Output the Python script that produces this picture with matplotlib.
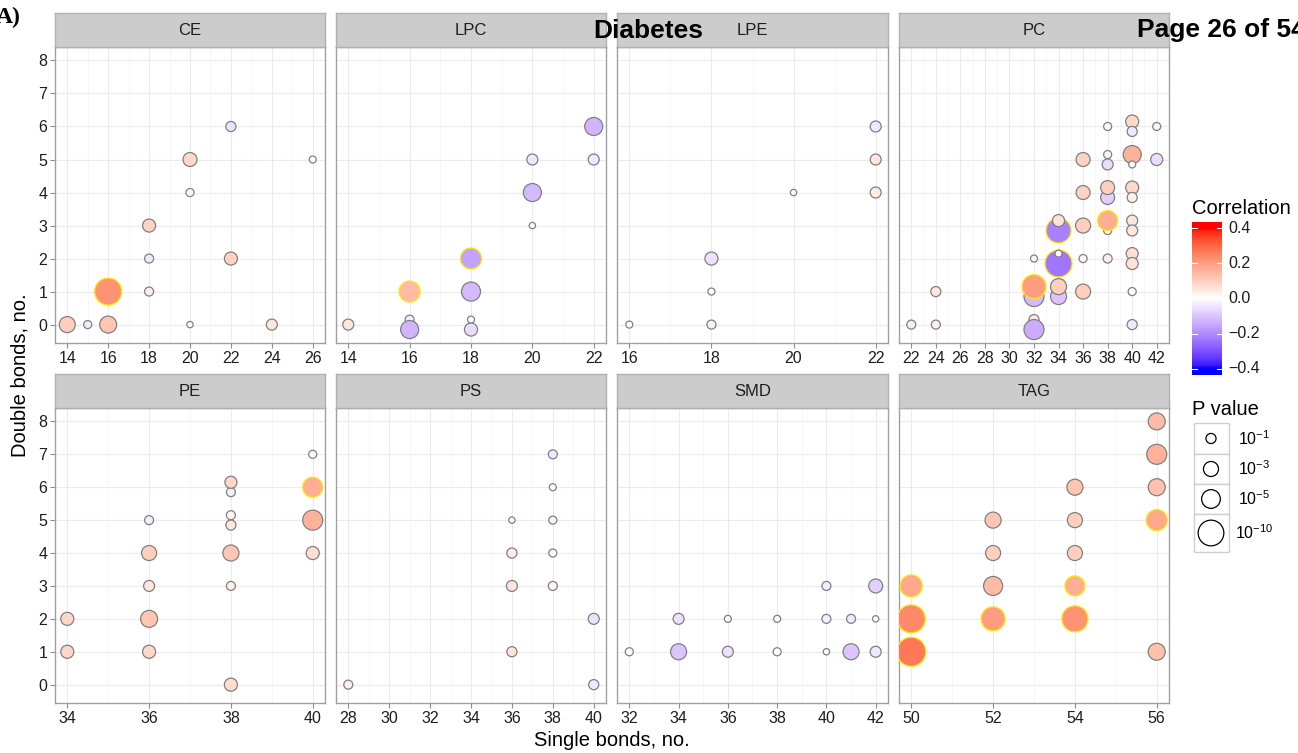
"""
Bubble chart of lipid species vs diabetes correlation, faceted by lipid class.
x = single bonds (carbons), y = double bonds, colour = correlation, size = -log10(P).
"""

import numpy as np
import matplotlib
matplotlib.use('Agg')
import matplotlib.pyplot as plt
from matplotlib.colors import ListedColormap, Normalize
from matplotlib.patches import Rectangle

plt.rcParams['font.family'] = ['Liberation Sans', 'DejaVu Sans']
plt.rcParams['mathtext.fontset'] = 'custom'
plt.rcParams['mathtext.rm'] = 'Liberation Sans'
plt.rcParams['mathtext.it'] = 'Liberation Sans:italic'
plt.rcParams['mathtext.bf'] = 'Liberation Sans:bold'

# ---------------- data ----------------
# per class: single bonds, double bonds, correlation, -log10(P), FDR significant
CE_X = [14, 15, 16, 16, 18, 18, 18, 20, 20, 20, 22, 22, 24, 26]
CE_Y = [0, 0, 0, 1, 1, 2, 3, 0, 4, 5, 2, 6, 0, 5]
CE_R = [0.10, -0.03, 0.12, 0.22, 0.03, -0.04, 0.09, 0.0, -0.01, 0.08, 0.09, -0.05, 0.05, 0.0]
CE_P = [3.5, 0.4, 4.0, 11.1, 0.66, 0.66, 2.1, 0.0, 0.4, 2.5, 2.1, 1.0, 1.3, 0.15]
CE_SIG = [0, 0, 0, 1, 0, 0, 0, 0, 0, 0, 0, 0, 0, 0]

LPC_X = [14, 16, 16, 16, 18, 18, 18, 18, 20, 20, 20, 22, 22]
LPC_Y = [0, 0.15, -0.15, 1, 0.15, -0.15, 1, 2, 3, 4, 5, 5, 6]
LPC_R = [0.05, -0.03, -0.13, 0.14, -0.01, -0.06, -0.12, -0.16, 0.0, -0.12, -0.04, -0.04, -0.13]
LPC_P = [1.3, 0.66, 4.6, 6.5, 0.15, 2.1, 5.2, 6.5, 0.0, 4.6, 1.3, 1.3, 4.6]
LPC_SIG = [0, 0, 0, 1, 0, 0, 0, 1, 0, 0, 0, 0, 0]

LPE_X = [16, 18, 18, 18, 20, 22, 22, 22]
LPE_Y = [0, 0, 1, 2, 4, 4, 5, 6]
LPE_R = [-0.01, -0.02, 0.0, -0.05, 0.0, 0.04, 0.05, -0.04]
LPE_P = [0.15, 0.66, 0.15, 2.1, 0.0, 1.3, 1.3, 1.3]
LPE_SIG = [0, 0, 0, 0, 0, 0, 0, 0]

PC_X = [22, 24, 24, 32, 32, 32, 32, 32, 34, 34, 34, 34, 34, 34,
        36, 36, 36, 36, 36, 38, 38, 38, 38, 38, 38, 38, 38,
        40, 40, 40, 40, 40, 40, 40, 40, 40, 40, 40, 40, 42, 42]
PC_Y = [0, 0, 1, 0.15, -0.15, 0.85, 1.15, 2, 0.85, 1.15, 1.85, 2.15, 2.85, 3.15,
        1, 2, 3, 4, 5, 2, 2.85, 3.15, 3.85, 4.15, 5.15, 4.85, 6,
        0, 1, 2.15, 1.85, 3.15, 2.85, 4.15, 3.85, 5.15, 4.85, 6.15, 5.85, 5, 6]
PC_R = [-0.03, 0.03, 0.05, 0.05, -0.14, -0.12, 0.20, 0.02, -0.10, 0.10, -0.24, 0.0, -0.22, 0.06,
        0.10, 0.02, 0.10, 0.09, 0.09, 0.03, 0.02, 0.17, -0.08, 0.10, 0.02, -0.06, -0.02,
        -0.04, -0.01, 0.07, 0.06, 0.05, 0.05, 0.08, 0.03, 0.16, 0.0, 0.08, -0.04, -0.06, -0.02]
PC_P = [0.66, 0.66, 1.0, 1.0, 5.8, 5.8, 8.6, 0.15, 3.5, 3.5, 11.1, 0.15, 9.4, 1.7,
        3.0, 0.4, 3.0, 2.5, 2.5, 0.66, 0.4, 5.8, 2.5, 2.5, 0.4, 1.3, 0.4,
        1.0, 0.4, 1.7, 1.7, 1.3, 1.3, 2.1, 1.0, 4.6, 0.15, 2.1, 1.0, 1.7, 0.4]
PC_SIG = [0, 0, 0, 0, 0, 0, 1, 0, 0, 0, 1, 0, 1, 0,
          0, 0, 0, 0, 0, 0, 0, 1, 0, 0, 0, 0, 0,
          0, 0, 0, 0, 0, 0, 0, 0, 0, 0, 0, 0, 0, 0]

PE_X = [34, 34, 36, 36, 36, 36, 36, 38, 38, 38, 38, 38, 38, 38, 40, 40, 40, 40]
PE_Y = [1, 2, 1, 2, 3, 4, 5, 0, 3, 4, 4.85, 5.15, 5.85, 6.15, 4, 5, 6, 7]
PE_R = [0.08, 0.08, 0.08, 0.12, 0.05, 0.10, -0.03, 0.07, 0.03, 0.12, 0.05, 0.02, -0.03, 0.08,
        0.07, 0.16, 0.17, 0.0]
PE_P = [2.1, 2.1, 2.1, 4.0, 1.3, 3.0, 0.66, 2.1, 0.66, 3.5, 1.0, 0.66, 0.66, 1.7, 2.1, 5.8, 5.8, 0.4]
PE_SIG = [0, 0, 0, 0, 0, 0, 0, 0, 0, 0, 0, 0, 0, 0, 0, 0, 1, 0]

PS_X = [28, 36, 36, 36, 36, 38, 38, 38, 38, 38, 40, 40]
PS_Y = [0, 1, 3, 4, 5, 3, 4, 5, 6, 7, 0, 2]
PS_R = [0.03, 0.05, 0.05, 0.04, 0.0, 0.02, -0.01, -0.02, 0.0, -0.04, -0.04, -0.05]
PS_P = [0.66, 1.0, 1.3, 1.0, 0.0, 0.66, 0.4, 0.4, 0.15, 0.66, 1.0, 1.3]
PS_SIG = [0, 0, 0, 0, 0, 0, 0, 0, 0, 0, 0, 0]

SMD_X = [32, 34, 34, 36, 36, 38, 38, 40, 40, 40, 41, 41, 42, 42, 42]
SMD_Y = [1, 1, 2, 1, 2, 1, 2, 1, 2, 3, 1, 2, 1, 2, 3]
SMD_R = [0.0, -0.10, -0.05, -0.05, 0.0, 0.0, 0.0, 0.0, -0.03, -0.03, -0.10, -0.04, -0.04, 0.0, -0.08]
SMD_P = [0.4, 3.5, 1.3, 1.3, 0.15, 0.4, 0.15, 0.0, 0.66, 0.66, 3.5, 0.66, 1.3, 0.0, 2.5]
SMD_SIG = [0] * 15

TAG_X = [50, 50, 50, 52, 52, 52, 52, 54, 54, 54, 54, 54, 56, 56, 56, 56, 56]
TAG_Y = [1, 2, 3, 2, 3, 4, 5, 2, 3, 4, 5, 6, 1, 5, 6, 7, 8]
TAG_R = [0.27, 0.24, 0.18, 0.20, 0.14, 0.10, 0.12, 0.22, 0.17, 0.10, 0.10, 0.12, 0.13, 0.18, 0.13, 0.16, 0.14]
TAG_P = [12.9, 12.0, 7.2, 8.6, 5.2, 3.0, 3.5, 10.3, 5.8, 3.0, 3.0, 3.5, 4.0, 6.5, 4.0, 5.8, 4.0]
TAG_SIG = [1, 1, 1, 1, 0, 0, 0, 1, 1, 0, 0, 0, 0, 1, 0, 0, 0]

PANELS = [
    ('CE', CE_X, CE_Y, CE_R, CE_P, CE_SIG),
    ('LPC', LPC_X, LPC_Y, LPC_R, LPC_P, LPC_SIG),
    ('LPE', LPE_X, LPE_Y, LPE_R, LPE_P, LPE_SIG),
    ('PC', PC_X, PC_Y, PC_R, PC_P, PC_SIG),
    ('PE', PE_X, PE_Y, PE_R, PE_P, PE_SIG),
    ('PS', PS_X, PS_Y, PS_R, PS_P, PS_SIG),
    ('SMD', SMD_X, SMD_Y, SMD_R, SMD_P, SMD_SIG),
    ('TAG', TAG_X, TAG_Y, TAG_R, TAG_P, TAG_SIG),
]

CORR_TICKS = [0.4, 0.2, 0.0, -0.2, -0.4]
CORR_LABELS = ['0.4', '0.2', '0.0', '\u22120.2', '\u22120.4']
PVAL_KEYS = [1, 3, 5, 10]
PVAL_LABELS = [r'$10^{-1}$', r'$10^{-3}$', r'$10^{-5}$', r'$10^{-10}$']

# ---------------- layout (pixels) ----------------
W, H, DPI = 1298, 753, 100
COLS = [(55, 325), (336, 606), (617, 888), (899, 1169)]
ROWS = [(47, 343), (408, 703)]
STRIPS = [(13, 47), (374, 408)]


def add_px_axes(fig, x0, y0, x1, y1):
    return fig.add_axes([x0 / W, 1 - y1 / H, (x1 - x0) / W, (y1 - y0) / H])


# ggplot-like Lab gradient (blue - white - red)
M = np.array([[0.4124564, 0.3575761, 0.1804375],
              [0.2126729, 0.7151522, 0.0721750],
              [0.0193339, 0.1191920, 0.9503041]])
WHITE_REF = np.array([0.95047, 1.0, 1.08883])


def to_lab(rgb):
    c = np.asarray(rgb, float)
    c = np.where(c > 0.04045, ((c + 0.055) / 1.055) ** 2.4, c / 12.92)
    xyz = M @ c / WHITE_REF
    f = np.where(xyz > 0.008856, np.cbrt(xyz), 7.787 * xyz + 16 / 116)
    return np.array([116 * f[1] - 16, 500 * (f[0] - f[1]), 200 * (f[1] - f[2])])


def from_lab(lab):
    fy = (lab[0] + 16) / 116
    f = np.array([fy + lab[1] / 500, fy, fy - lab[2] / 200])
    xyz = np.where(f > 0.2069, f ** 3, (f - 16 / 116) / 7.787) * WHITE_REF
    c = np.linalg.solve(M, xyz)
    c = np.clip(c, 0, None)
    c = np.where(c > 0.0031308, 1.055 * c ** (1 / 2.4) - 0.055, 12.92 * c)
    return np.clip(c, 0, 1)


def lab_ramp(c0, c1, n):
    l0, l1 = to_lab(c0), to_lab(c1)
    return [from_lab(l0 + (l1 - l0) * t) for t in np.linspace(0, 1, n)]


CMAP = ListedColormap(lab_ramp((0, 0, 1), (1, 1, 1), 128) + lab_ramp((1, 1, 1), (1, 0, 0), 128)[1:])
NORM = Normalize(-0.4, 0.4, clip=True)


def marker_area(nlogp):
    d_px = np.sqrt(40 + 62 * np.asarray(nlogp, float))
    return (d_px * 72 / DPI) ** 2


fig = plt.figure(figsize=(W / DPI, H / DPI), dpi=DPI)

all_y = [v for p in PANELS for v in p[2]]
ypad = 0.05 * (max(all_y) - min(all_y))
ylim = (min(all_y) - ypad, max(all_y) + ypad)

for i, (name, xs, ys, rs, ps, sig) in enumerate(PANELS):
    row, col = divmod(i, 4)
    x0, x1 = COLS[col]
    y0, y1 = ROWS[row]
    s0, s1 = STRIPS[row]

    ax = add_px_axes(fig, x0, y0, x1, y1)
    xmin, xmax = min(xs), max(xs)
    xpad = 0.05 * (xmax - xmin)
    ax.set_xlim(xmin - xpad, xmax + xpad)
    ax.set_ylim(*ylim)
    ax.set_xticks(range(xmin, xmax + 1, 2))
    ax.set_xticks(range(xmin + 1, xmax, 2), minor=True)
    ax.set_yticks(range(0, 9))
    ax.grid(which='major', color='#EBEBEB', lw=0.8)
    ax.grid(which='minor', axis='x', color='#F4F4F4', lw=0.5)
    ax.set_axisbelow(True)
    ax.tick_params(which='minor', length=0)
    ax.tick_params(which='major', length=3.5, width=0.8, color='#8C8C8C',
                   labelsize=11.5, labelcolor='#1E1E1E', pad=2)
    if col != 0:
        ax.tick_params(axis='y', left=False, labelleft=False)
    for sp in ax.spines.values():
        sp.set_color('#A0A0A0')
        sp.set_linewidth(1.0)

    edges = ['#FFE800' if s else '#808080' for s in sig]
    ax.scatter(xs, ys, s=marker_area(ps), c=CMAP(NORM(np.array(rs))),
               edgecolors=edges, linewidths=0.9, zorder=3)

    # facet strip
    sax = add_px_axes(fig, x0, s0, x1, s1)
    sax.set_facecolor('#CCCCCC')
    sax.set_xticks([])
    sax.set_yticks([])
    for sp in sax.spines.values():
        sp.set_color('#B0B0B0')
        sp.set_linewidth(1.0)
    sax.text(0.5, 0.48, name, transform=sax.transAxes, ha='center', va='center',
             fontsize=12, color='#1E1E1E')

fig.text(612 / W, 1 - 740 / H, 'Single bonds, no.', ha='center', va='center', fontsize=14.5)
fig.text(20 / W, 1 - 375 / H, 'Double bonds, no.', ha='center', va='center',
         rotation=90, fontsize=14.5)

# colour bar
cax = add_px_axes(fig, 1192, 222, 1222, 375)
lim = 0.435
grad = np.linspace(-lim, lim, 256)[:, None]
cax.imshow(grad, aspect='auto', cmap=CMAP, norm=NORM, origin='lower',
           extent=[0, 1, -lim, lim])
cax.set_xlim(0, 1)
cax.set_ylim(-lim, lim)
cax.axis('off')
for v, lbl in zip(CORR_TICKS, CORR_LABELS):
    cax.plot([0, 0.18], [v, v], color='white', lw=0.8)
    cax.plot([0.82, 1], [v, v], color='white', lw=0.8)
    cax.text(1.2, v, lbl, transform=cax.get_yaxis_transform(), ha='left', va='center',
             fontsize=11.5, color='#1E1E1E')
fig.text(1192 / W, 1 - 214 / H, 'Correlation', ha='left', va='baseline', fontsize=14.5)

# P value size legend
fig.text(1192 / W, 1 - 415 / H, 'P value', ha='left', va='baseline', fontsize=14.5)
key_edges = [423, 454, 484, 514, 552]
lax = add_px_axes(fig, 1193, 423, 1229, 552)
lax.set_xlim(1193, 1229)
lax.set_ylim(552, 423)
lax.axis('off')
for k, (v, lbl) in enumerate(zip(PVAL_KEYS, PVAL_LABELS)):
    top, bot = key_edges[k], key_edges[k + 1]
    lax.add_patch(Rectangle((1193.5, top), 35, bot - top, facecolor='white',
                            edgecolor='#CFCFCF', lw=1.0, clip_on=False))
    yc = (top + bot) / 2
    lax.scatter([1211], [yc], s=marker_area(v), facecolors='none', edgecolors='black',
                linewidths=0.9, zorder=3, clip_on=False)
    fig.text(1254 / W, 1 - yc / H, lbl, ha='center', va='center', fontsize=11.5)

# page overlay texts (cut at the page edges as in the source)
fig.text(-4 / W, 1 - 23 / H, 'A)', family='Liberation Serif', fontweight='bold',
         fontsize=17, va='baseline', ha='left')
fig.text(593 / W, 1 - 37.5 / H, 'Diabetes', fontweight='bold', fontsize=19,
         va='baseline', ha='left')
fig.text(1137 / W, 1 - 37.5 / H, 'Page 26 of 54', fontweight='bold', fontsize=19,
         va='baseline', ha='left')

fig.savefig('out.png', dpi=DPI)
